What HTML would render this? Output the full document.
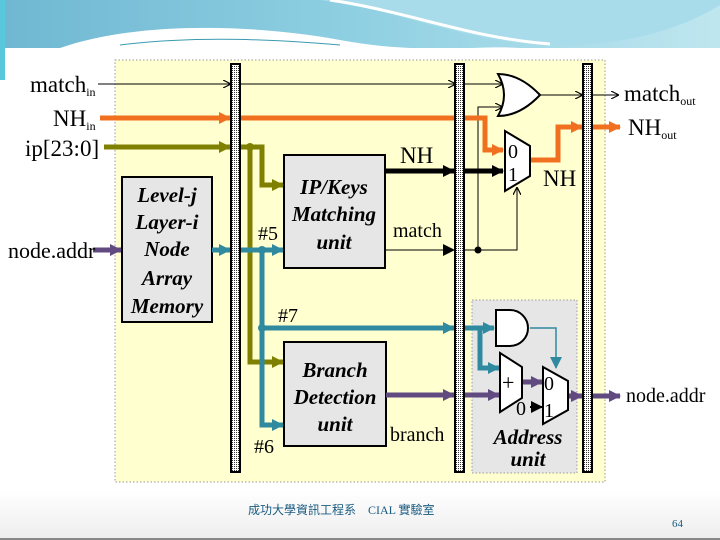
<!DOCTYPE html>
<html><head><meta charset="utf-8"><style>
body{margin:0;width:720px;height:540px;overflow:hidden;background:#fff}
svg{display:block}
text{font-family:"Liberation Serif",serif}
</style></head><body>
<svg width="720" height="540" viewBox="0 0 720 540" xmlns="http://www.w3.org/2000/svg">
<defs>
<linearGradient id="hd" x1="0" y1="0" x2="1" y2="0"><stop offset="0" stop-color="#6fb7d2"/><stop offset="0.5" stop-color="#8fd0e2"/><stop offset="1" stop-color="#bfe6ef"/></linearGradient>
<linearGradient id="ft" x1="0" y1="0" x2="0" y2="1"><stop offset="0" stop-color="#fff"/><stop offset="1" stop-color="#eeeeee"/></linearGradient>
<pattern id="dots" width="2" height="2" patternUnits="userSpaceOnUse"><rect width="2" height="2" fill="#fff"/><rect width="1" height="1" fill="#333"/></pattern>
<marker id="ab" markerWidth="8" markerHeight="8" refX="7" refY="4" orient="auto" markerUnits="userSpaceOnUse"><path d="M0,0 L8,4 L0,8" fill="none" stroke="#000" stroke-width="1.2"/></marker>
<marker id="ao" markerWidth="12" markerHeight="12" refX="11" refY="6" orient="auto" markerUnits="userSpaceOnUse"><path d="M0,0 L12,6 L0,12z" fill="#f07020"/></marker>
<marker id="ag" markerWidth="12" markerHeight="12" refX="11" refY="6" orient="auto" markerUnits="userSpaceOnUse"><path d="M0,0 L12,6 L0,12z" fill="#808000"/></marker>
<marker id="at" markerWidth="12" markerHeight="12" refX="11" refY="6" orient="auto" markerUnits="userSpaceOnUse"><path d="M0,0 L12,6 L0,12z" fill="#2f8aa0"/></marker>
<marker id="ap" markerWidth="12" markerHeight="12" refX="11" refY="6" orient="auto" markerUnits="userSpaceOnUse"><path d="M0,0 L12,6 L0,12z" fill="#604a80"/></marker>
<marker id="ak" markerWidth="12" markerHeight="12" refX="11" refY="6" orient="auto" markerUnits="userSpaceOnUse"><path d="M0,0 L12,6 L0,12z" fill="#000"/></marker>
</defs>
<rect x="0" y="0" width="720" height="48" fill="url(#hd)"/>
<path d="M60,48 C140,20 260,25 340,40 C420,55 480,45 520,48 Z" fill="#fff"/>
<path d="M320,0 C400,10 460,40 540,45 C620,48 680,30 720,5 L720,0Z" fill="#a8dcea"/>
<path d="M330,0 C410,12 470,38 550,44" stroke="#fff" stroke-width="3" fill="none"/>
<path d="M120,45 C200,35 280,40 340,45" stroke="#3a9ab0" stroke-width="1" fill="none"/>
<rect x="0" y="0" width="5" height="80" fill="#5ac8dc"/>
<rect x="5" y="48" width="715" height="492" fill="#fff"/>
<rect x="0" y="490" width="720" height="48" fill="url(#ft)"/>
<rect x="0" y="538" width="720" height="2" fill="#888"/>
<rect x="115" y="60" width="490" height="422" fill="#ffffd0" stroke="#999" stroke-dasharray="1.5,2"/>
<rect x="472" y="300" width="105" height="173" fill="#e6e6e6" stroke="#999" stroke-dasharray="1.5,2"/>
<rect x="122" y="177" width="90" height="145" fill="#e6e6e6" stroke="#000" stroke-width="2"/>
<rect x="284" y="155" width="101" height="113" fill="#e6e6e6" stroke="#000" stroke-width="2"/>
<rect x="284" y="342" width="102" height="104" fill="#e6e6e6" stroke="#000" stroke-width="2"/>
<g fill="none">
<line x1="98" y1="84" x2="230" y2="84" stroke="#000" marker-end="url(#ab)"/>
<line x1="240" y1="84" x2="455" y2="84" stroke="#000" marker-end="url(#ab)"/>
<line x1="465" y1="84" x2="502" y2="84" stroke="#000" marker-end="url(#ab)"/>
<line x1="540" y1="95" x2="582" y2="95" stroke="#000" marker-end="url(#ab)"/>
<line x1="592" y1="95" x2="618" y2="95" stroke="#000" marker-end="url(#ab)"/>
<polyline points="478,250 478,107 502,107" stroke="#000" marker-end="url(#ab)"/>
<line x1="386" y1="250" x2="454" y2="250" stroke="#000" marker-end="url(#ak)"/>
<polyline points="465,250 517,250 517,188" stroke="#000" marker-end="url(#ab)"/>
<line x1="386" y1="171" x2="454" y2="171" stroke="#000" stroke-width="5" marker-end="url(#ak)"/>
<line x1="465" y1="171" x2="503" y2="171" stroke="#000" stroke-width="5" marker-end="url(#ak)"/>
<line x1="100" y1="118" x2="230" y2="118" stroke="#f07020" stroke-width="5" marker-end="url(#ao)"/>
<polyline points="240,118 485,118 485,150 503,150" stroke="#f07020" stroke-width="5" marker-end="url(#ao)"/>
<polyline points="530,160 558,160 558,127 582,127" stroke="#f07020" stroke-width="5" marker-end="url(#ao)"/>
<line x1="592" y1="127" x2="620" y2="127" stroke="#f07020" stroke-width="5" marker-end="url(#ao)"/>
<line x1="104" y1="147" x2="230" y2="147" stroke="#808000" stroke-width="5" marker-end="url(#ag)"/>
<polyline points="240,147 262,147 262,185 283,185" stroke="#808000" stroke-width="5" marker-end="url(#ag)"/>
<polyline points="250,147 250,362 283,362" stroke="#808000" stroke-width="5" marker-end="url(#ag)"/>
<line x1="93" y1="250" x2="121" y2="250" stroke="#604a80" stroke-width="5" marker-end="url(#ap)"/>
<line x1="212" y1="250" x2="230" y2="250" stroke="#2f8aa0" stroke-width="5" marker-end="url(#at)"/>
<line x1="240" y1="250" x2="283" y2="250" stroke="#2f8aa0" stroke-width="5" marker-end="url(#at)"/>
<polyline points="262,250 262,425 283,425" stroke="#2f8aa0" stroke-width="5" marker-end="url(#at)"/>
<line x1="262" y1="328" x2="454" y2="328" stroke="#2f8aa0" stroke-width="5" marker-end="url(#at)"/>
<line x1="465" y1="328" x2="494" y2="328" stroke="#2f8aa0" stroke-width="5" marker-end="url(#at)"/>
<polyline points="480,328 480,368 499,368" stroke="#2f8aa0" stroke-width="5" marker-end="url(#at)"/>
<polyline points="530,328 556,328 556,368" stroke="#2f8aa0" stroke-width="1.5" marker-end="url(#at)"/>
<line x1="386" y1="395" x2="454" y2="395" stroke="#604a80" stroke-width="5" marker-end="url(#ap)"/>
<line x1="465" y1="395" x2="499" y2="395" stroke="#604a80" stroke-width="5" marker-end="url(#ap)"/>
<line x1="522" y1="382" x2="542" y2="382" stroke="#604a80" stroke-width="5" marker-end="url(#ap)"/>
<line x1="568" y1="396" x2="582" y2="396" stroke="#604a80" stroke-width="5" marker-end="url(#ap)"/>
<line x1="592" y1="396" x2="620" y2="396" stroke="#604a80" stroke-width="5" marker-end="url(#ap)"/>
<line x1="530" y1="407" x2="542" y2="407" stroke="#000" stroke-width="2" marker-end="url(#ak)"/>
</g>
<circle cx="250" cy="147" r="4" fill="#808000"/>
<circle cx="262" cy="250" r="4" fill="#2f8aa0"/>
<circle cx="262" cy="328" r="4" fill="#2f8aa0"/>
<circle cx="478" cy="250" r="3.5" fill="#000"/>
<path d="M498,74 Q520,74 540,95 Q520,116 498,116 Q510,95 498,74z" fill="#fff" stroke="#000" stroke-width="2"/>
<path d="M505,131 L530,146 L530,176 L505,191z" fill="#fff" stroke="#000" stroke-width="2"/>
<path d="M496,310 L510,310 A18,18 0 0 1 510,346 L496,346z" fill="#fff" stroke="#000" stroke-width="2"/>
<path d="M500,353 L522,367 L522,398 L500,412z" fill="#fff" stroke="#000" stroke-width="2"/>
<path d="M543,367 L568,381 L568,410 L543,424z" fill="#fff" stroke="#000" stroke-width="2"/>
<rect x="231" y="64" width="9" height="408" fill="url(#dots)" stroke="#000" stroke-width="2"/>
<rect x="455" y="64" width="9" height="408" fill="url(#dots)" stroke="#000" stroke-width="2"/>
<rect x="583" y="64" width="9" height="408" fill="url(#dots)" stroke="#000" stroke-width="2"/>
<g font-size="23" fill="#000">
<text x="30" y="92">match<tspan font-size="12" dy="4">in</tspan></text>
<text x="53" y="126">NH<tspan font-size="12" dy="4">in</tspan></text>
<text x="25" y="156">ip[23:0]</text>
<text x="8" y="258" font-size="22">node.addr</text>
<text x="624" y="101">match<tspan font-size="12" dy="4">out</tspan></text>
<text x="628" y="135">NH<tspan font-size="12" dy="4">out</tspan></text>
<text x="626" y="402" font-size="20">node.addr</text>
<text x="400" y="163">NH</text>
<text x="543" y="186">NH</text>
<text x="393" y="237" font-size="20">match</text>
<text x="390" y="441" font-size="20">branch</text>
<text x="258" y="240" font-size="20">#5</text>
<text x="278" y="322" font-size="20">#7</text>
<text x="254" y="453" font-size="20">#6</text>
<text x="508" y="158" font-size="20">0</text>
<text x="508" y="181" font-size="20">1</text>
<text x="544" y="390" font-size="20">0</text>
<text x="544" y="417" font-size="20">1</text>
<text x="502" y="390" font-size="22">+</text>
<text x="516" y="415" font-size="20">0</text>
</g>
<g font-size="21" font-weight="bold" font-style="italic" text-anchor="middle">
<text x="167" y="202">Level-j</text>
<text x="167" y="229">Layer-i</text>
<text x="167" y="256">Node</text>
<text x="167" y="285">Array</text>
<text x="167" y="313">Memory</text>
<text x="334" y="194">IP/Keys</text>
<text x="334" y="221">Matching</text>
<text x="334" y="249">unit</text>
<text x="335" y="377">Branch</text>
<text x="335" y="404">Detection</text>
<text x="335" y="431">unit</text>
<text x="528" y="444">Address</text>
<text x="528" y="466">unit</text>
</g>
<text x="248" y="514" font-size="12" fill="#1a5a80" font-family="'Liberation Sans','Noto Sans CJK TC',sans-serif">成功大學資訊工程系　CIAL 實驗室</text>
<text x="672" y="527" font-size="11" fill="#1a5a80" font-family="'Liberation Sans',sans-serif">64</text>
</svg>
</body></html>
